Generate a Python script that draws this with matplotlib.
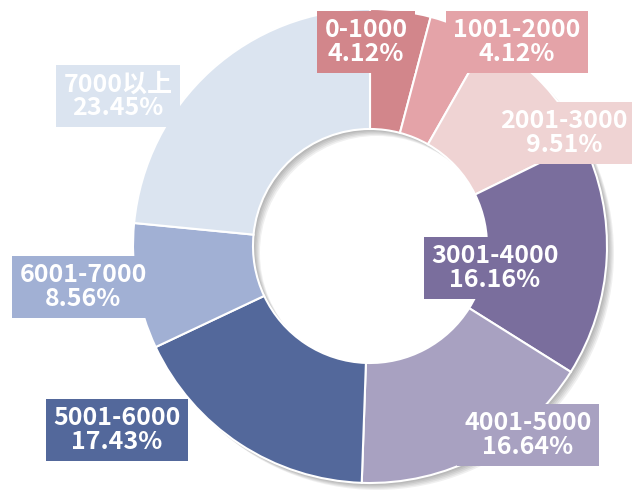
import matplotlib.pyplot as plt
from matplotlib.patches import Wedge

# 数据
categories = ["0-1000", "1001-2000", "2001-3000", "3001-4000",
              "4001-5000", "5001-6000", "6001-7000", "7000以上"]
shares = [4.12, 4.12, 9.51, 16.16, 16.64, 17.43, 8.56, 23.45]
colors = ["#d2868b", "#e4a3a8", "#efd3d3", "#7a6e9d",
          "#a8a1c1", "#53689b", "#a1b0d4", "#dbe4f0"]

# 标签位置 (像素坐标, 原点在左下)
label_pos = [(366, 449), (517, 449), (564, 358), (495, 223),
             (528, 56), (117, 61), (83, 204), (118, 395)]

plt.rcParams["font.family"] = ["Noto Sans CJK SC", "DejaVu Sans"]

W, H = 632, 491
fig = plt.figure(figsize=(W / 100, H / 100), dpi=100)
ax = fig.add_axes([0, 0, 1, 1])

cx, cy = 370, 245
R, ring = 237, 120

# 阴影
for k in range(6):
    off = 1 + k * 1.2
    sh = Wedge((cx + off, cy - off), R, 0, 360, width=ring,
               facecolor="black", edgecolor="none", alpha=0.06)
    ax.add_patch(sh)

wedges, _ = ax.pie(
    shares,
    colors=colors,
    radius=R,
    center=(cx, cy),
    startangle=90,
    counterclock=False,
    wedgeprops=dict(width=ring, edgecolor="white", linewidth=1.5),
    frame=True,
)
ax.set_xlim(0, W)
ax.set_ylim(0, H)
ax.axis("off")

for name, val, col, (x, y) in zip(categories, shares, colors, label_pos):
    ax.text(x, y, f"{name}\n{val:.2f}%", ha="center", va="center",
            color="white", fontsize=18, fontweight="bold", linespacing=0.95,
            bbox=dict(boxstyle="square,pad=0.3", facecolor=col, edgecolor="none"))

fig.savefig("out.png", dpi=100)
